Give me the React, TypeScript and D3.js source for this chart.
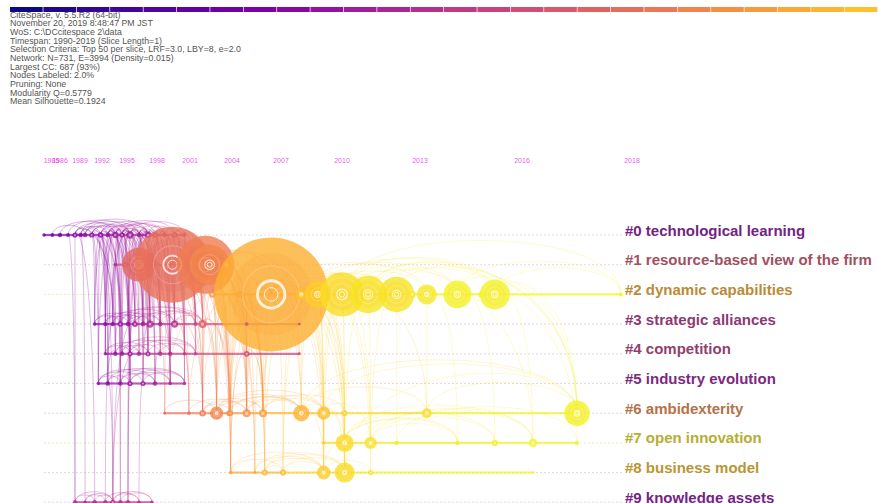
import React from 'react';
import * as d3 from 'd3';

const W = 878;
const H = 503;

const headerLines = [
  'CiteSpace, v. 5.5.R2 (64-bit)',
  'November 20, 2019 8:48:47 PM JST',
  'WoS: C:\\DCcitespace 2\\data',
  'Timespan: 1990-2019 (Slice Length=1)',
  'Selection Criteria: Top 50 per slice, LRF=3.0, LBY=8, e=2.0',
  'Network: N=731, E=3994 (Density=0.015)',
  'Largest CC: 687 (93%)',
  'Nodes Labeled: 2.0%',
  'Pruning: None',
  'Modularity Q=0.5779',
  'Mean Silhouette=0.1924',
];

const yearTicks = [1985, 1986, 1989, 1992, 1995, 1998, 2001, 2004, 2007, 2010, 2013, 2016, 2018];
const sliceCount = 26;

const clusterLabels = [
  '#0 technological learning',
  '#1 resource-based view of the firm',
  '#2 dynamic capabilities',
  '#3 strategic alliances',
  '#4 competition',
  '#5 industry evolution',
  '#6 ambidexterity',
  '#7 open innovation',
  '#8 business model',
  '#9 knowledge assets',
];
const clusterMeanYear = [1997.3, 2005, 2013.7, 2001, 2002, 1998.2, 2010.3, 2018, 2015, 1997.3];

// [publication year, citations, peak citing year]
const cluster0 = [
  [1984.1, 1.2, 1994], [1985.1, 1.5, 1995], [1986, 1.8, 1995], [1987.2, 1.5, 1996],
  [1988.25, 2.5, 1996], [1989.1, 1.8, 1996], [1989.7, 2, 1997], [1990.6, 2.5, 1997],
  [1991.8, 2.8, 1997], [1992.7, 2, 1998], [1993.6, 3.5, 1998], [1994.4, 2.5, 1998],
  [1995.3, 5, 1999], [1996.2, 2, 1999], [1997.1, 4, 1999], [1997.8, 2.5, 2000],
  [1998.7, 2, 2000], [1999.6, 3, 2001], [2000.5, 1.5, 2002],
];
const cluster1 = [
  [1993.6, 1.2, 2000], [1994.8, 2.5, 2004], [1996.2, 105, 2007], [1999.4, 533, 2008],
  [2002.1, 310, 2009], [2002.4, 148, 2010], [2003.6, 9, 2011],
];
const cluster2 = [
  [2002.6, 4, 2011], [2004.5, 3.5, 2012], [2006.4, 1200, 2013.5], [2008, 12, 2015],
  [2008.8, 62, 2016], [2010, 180, 2017], [2011, 130, 2017.5], [2012.1, 115, 2017.5],
  [2012.7, 4, 2018], [2013.2, 37, 2018], [2014.1, 72, 2018.5], [2014.8, 3, 2018.5],
  [2015.2, 83, 2018.5], [2017.8, 1.5, 2019],
];
const cluster3 = [
  [1991, 1.2, 1996], [1992.4, 1.8, 1997], [1993.3, 1.8, 1997], [1994.2, 2.5, 1998],
  [1995.1, 2, 1998], [1995.8, 3, 1999], [1996.6, 2, 1999], [1997.3, 5, 2000],
  [1998.3, 2, 2000], [1999.6, 5, 2001], [2001.4, 1.5, 2003], [2001.9, 6, 2006],
  [2004.9, 1.2, 2004], [2007.9, 0.8, 2004],
];
const cluster4 = [
  [1992.4, 1.2, 1998], [1993.6, 1.8, 1998], [1994.4, 1.8, 1999], [1995.3, 2.5, 1999],
  [1996.2, 1.8, 2000], [1997.1, 2.5, 2000], [1998.3, 1.8, 2001], [1999.2, 1.8, 2001],
  [2000.5, 1.2, 2002], [2001.4, 1.2, 2002], [2004.9, 3, 2004], [2007.9, 0.8, 2003],
];
const cluster5 = [
  [1991.5, 1.2, 1997], [1992.7, 1.8, 1997], [1994.2, 1.8, 1998], [1995.3, 2.5, 1998],
  [1996.6, 2.5, 1999], [1997.8, 1.8, 1999], [1999.2, 1.2, 2000], [2000.5, 1.2, 2000],
];
const cluster6 = [
  [1998.7, 0.8, 2006], [2000.9, 1.2, 2008], [2001.9, 4, 2009], [2002.9, 16, 2010],
  [2003.8, 3, 2010], [2003.9, 2.5, 2011], [2004.9, 6, 2011], [2005.9, 6, 2012],
  [2008, 25, 2014], [2009.1, 16, 2015], [2010.1, 3, 2016], [2013.2, 9, 2017],
  [2017, 60, 2018.5],
];
const cluster7 = [
  [2009.1, 1.2, 2016], [2010.1, 30, 2017], [2011.1, 14, 2017.5], [2012.1, 1.8, 2018],
  [2014.1, 1.8, 2018], [2015.2, 3.5, 2018], [2016.2, 6, 2018.5], [2017, 1.8, 2018.5],
];
const cluster8 = [
  [2003.9, 1.2, 2012], [2005.4, 0.8, 2013], [2006, 3.5, 2014], [2007.1, 3.5, 2014],
  [2009.1, 18, 2016], [2010.1, 37, 2017], [2011.1, 2.5, 2017.5], [2016.2, 0.8, 2018.5],
];
const cluster9 = [
  [1988.25, 1.8, 2000], [1989.7, 1.2, 2000], [1991, 1.8, 2000], [1992.4, 1.8, 2000.5],
  [1993.3, 2.5, 2000.5], [1994.2, 1.8, 2001], [1995.1, 1.8, 2001], [1996.2, 1.2, 2001],
  [1997.5, 1.2, 2001],
];
const clusters = [cluster0, cluster1, cluster2, cluster3, cluster4, cluster5, cluster6, cluster7, cluster8, cluster9];

const linkList = `
0.4-3.2 0.6-3.3 0.5-4.1
0.7-3.0 0.7-3.1 0.7-3.2 0.8-3.1 0.8-3.3 0.8-3.5 0.9-3.2 0.9-3.4 0.9-3.6 0.10-3.3 0.10-3.5 0.10-3.7
0.11-3.4 0.11-3.6 0.11-3.8 0.12-3.5 0.12-3.7 0.12-3.9 0.13-3.6 0.13-3.8 0.13-3.10 0.14-3.7 0.14-3.9
0.14-3.11 0.15-3.8 0.15-3.10 0.16-3.9 0.16-3.11 0.17-3.10 0.17-3.11 0.18-3.11 0.9-3.0 0.10-3.1
0.11-3.2 0.12-3.3 0.13-3.4 0.14-3.5 0.15-3.6 0.16-3.7 0.17-3.8 0.8-3.0 0.12-3.2 0.14-3.4 0.16-3.6
0.18-3.9 0.10-3.6 0.11-3.7 0.12-3.8 0.13-3.9 0.9-3.5 0.15-3.9 0.17-3.9 0.11-3.10
0.8-4.0 0.9-4.0 0.9-4.1 0.10-4.1 0.10-4.2 0.11-4.2 0.11-4.3 0.12-4.3 0.12-4.4 0.13-4.4 0.13-4.5
0.14-4.5 0.14-4.6 0.15-4.6 0.15-4.7 0.16-4.7 0.16-4.8 0.17-4.8 0.17-4.9 0.18-4.9 0.10-4.0 0.12-4.2
0.14-4.3 0.16-4.5 0.8-4.2 0.11-4.5 0.13-4.7 0.9-4.3 0.12-4.6 0.15-4.8
0.7-5.0 0.8-5.0 0.8-5.1 0.9-5.1 0.9-5.2 0.10-5.2 0.10-5.3 0.11-5.3 0.12-5.4 0.13-5.4 0.13-5.5
0.14-5.5 0.15-5.6 0.16-5.6 0.17-5.7 0.18-5.7 0.10-5.0 0.12-5.1 0.14-5.3 0.16-5.4 0.11-5.6 0.9-5.3
0.12-5.5 0.14-5.6
0.3-9.0 0.4-9.0 0.5-9.1 0.4-9.2 0.8-9.4 0.10-9.5 0.12-9.6
3.3-5.2 3.5-4.3 4.1-5.1 3.7-5.4 4.4-9.4 5.1-9.4 3.2-9.3 5.3-9.6
3.4-5.3 3.6-4.5 3.8-5.6 3.9-4.7 4.2-5.2 4.6-5.5 3.1-4.0 3.3-4.1 4.3-9.6 5.2-9.5 5.4-9.7 3.5-9.4
0.2-0.10 0.3-0.12 0.5-0.14 0.6-0.13 0.4-0.11 0.8-0.15 0.7-0.12 0.9-0.14 0.1-0.6 0.10-0.17 0.11-0.16
0.12-0.18 0.4-0.8 0.6-0.10 0.8-0.12 0.5-0.9 0.7-0.11 0.9-0.13 0.10-0.14
3.0-3.5 3.1-3.7 3.2-3.9 3.3-3.8 3.4-3.11 3.5-3.9 3.6-3.10 3.0-3.3 3.7-3.11 3.1-3.4 3.2-3.6 3.8-3.11
3.3-3.10 3.5-3.8 3.4-3.7 3.9-3.11
4.0-4.5 4.1-4.7 4.2-4.9 4.3-4.8 4.4-4.9 4.5-4.8 4.1-4.4 4.6-4.9 4.3-4.6 4.2-4.5 4.0-4.3
5.0-5.4 5.1-5.6 5.2-5.7 5.3-5.7 5.0-5.5 5.1-5.3 5.4-5.7 5.2-5.5 5.3-5.6 5.0-5.2
9.0-9.4 9.1-9.4 9.4-9.8 9.3-9.7 9.5-9.8 9.0-9.2 9.2-9.4 9.4-9.7 9.1-9.3
1.2-3.9 1.2-4.6 1.3-3.11 1.3-6.2 1.3-6.3 1.4-6.3 1.4-6.6 1.5-6.4 1.5-8.0 1.3-4.10 1.4-3.12 1.2-5.6
1.1-3.7 1.1-4.4 1.3-6.1 1.4-6.5 1.5-6.7 1.6-6.6 1.6-8.2 1.2-6.0 1.3-3.10 0.14-1.2 0.12-1.1 0.17-1.3
1.2-3.7 1.2-4.5 1.3-4.9 1.3-3.9 1.3-5.7 1.4-4.10 1.4-3.11 1.5-3.12 1.5-4.11 1.6-3.13 1.3-6.4 1.4-6.7
1.5-6.8 1.4-8.0 1.6-6.7 1.2-6.1 1.3-6.0 1.5-6.3 1.6-6.5 1.4-8.2
1.3-6.5 1.3-6.6 1.4-6.2 1.4-6.4 1.5-6.6 1.5-6.5 1.2-6.2 1.6-6.3 1.3-8.0 1.4-8.1 1.2-6.3 1.5-6.2
2.0-6.3 2.1-6.6 2.2-6.7 2.2-6.8 2.2-8.2 2.2-8.3 2.2-6.9 2.3-8.4 2.4-6.9 2.2-8.4 2.1-6.5 2.0-8.0
2.2-6.3 2.3-6.8 2.4-8.5 2.2-6.6 2.1-8.1 2.2-8.5 2.2-6.10 2.3-6.9 2.2-7.1 2.4-7.1
2.0-6.4 2.1-6.7 2.0-6.2 2.1-8.0 2.2-6.2 2.2-6.4 2.2-6.5 2.2-8.0 2.2-8.1 2.3-6.7 2.3-8.3 2.4-8.4
2.2-6.11 2.4-6.10 2.3-8.5 2.5-6.9 2.5-8.4 2.6-8.5 2.4-7.2 2.3-6.10 2.2-7.0 2.4-6.8 2.2-4.10 2.2-3.12
2.1-3.12 2.0-6.6 2.1-6.3 2.2-6.0 2.2-6.1 2.1-8.2 2.0-8.1 2.3-6.6 2.3-8.2 2.4-6.7 2.4-8.3
2.5-7.1 2.5-8.5 2.5-7.2 2.6-7.2 2.7-7.3 2.4-7.0
2.9-6.11 2.5-6.12 2.7-6.12 2.10-6.12 2.12-6.12 2.12-7.6 2.10-7.5 2.6-6.12 2.9-7.4 2.5-7.6 2.6-7.7
2.4-8.6 2.7-8.6 2.3-7.0 2.12-2.13 2.10-2.13
2.3-2.7 2.4-2.9 2.5-2.10 2.6-2.12 2.4-2.12 2.3-2.10 2.2-2.6 2.2-2.9 2.5-2.13 2.2-2.5 2.2-2.4 2.5-2.7
6.2-6.7 6.3-6.8 6.6-6.9 6.8-6.11 6.3-6.9 6.7-6.10 6.9-6.12 6.11-6.12 6.2-6.6 6.3-6.7 6.8-6.12 6.5-6.8
6.0-6.3 6.1-6.6 6.2-6.5 6.4-6.8 6.6-6.8 6.7-6.9
7.1-7.5 7.1-7.6 7.2-7.6 7.2-7.5 7.3-7.7 7.1-7.4 7.2-7.4
8.0-8.4 8.2-8.5 8.1-8.4 8.3-8.5 8.4-8.6 8.2-8.4 8.3-8.4 8.0-8.3 8.1-8.5 8.2-8.3
8.5-6.12 8.5-7.6 8.4-7.4 8.5-7.1 8.4-6.9 8.5-6.10
6.8-7.1 6.9-7.2 6.9-8.5 6.10-7.1 6.8-8.4
3.11-6.2 3.11-6.3 3.9-6.1 4.10-6.6 4.10-8.0 3.12-6.6
3.11-6.4 3.11-6.5 3.12-6.7 4.10-6.7 3.10-6.2 3.9-6.2
`;

type Node = { id: string; ci: number; i: number; year: number; count: number; peak: number; cx: number; cy: number; r: number };

export default function App() {
  const x = d3
    .scaleLinear()
    .domain([1980, 1985, 1986, 1989, 1992, 1995, 1998, 2001, 2004, 2007, 2010, 2013, 2016, 2018])
    .range([10, 51.5, 60, 80, 102, 127, 157, 190, 232, 281, 342, 420, 522, 632]);
  const y = d3.scaleLinear().domain([0, 9]).range([235, 502.3]);
  const rScale = d3.scaleSqrt().domain([0, 1200]).range([0, 57]);
  const tScale = d3.scaleLinear().domain([1988, 2019]).range([0, 1]).clamp(true);
  const color = (yr: number) => d3.interpolatePlasma(tScale(yr));
  const labelColor = (yr: number) =>
    d3.color(d3.interpolateRgb(color(yr), '#808080')(0.25))!.darker(0.5).formatHex();

  const nodes: Node[] = clusters.flatMap((arr, ci) =>
    arr.map(([year, count, peak], i) => ({
      id: `${ci}.${i}`, ci, i, year, count, peak,
      cx: x(year), cy: y(ci), r: Math.max(1.4, rScale(count)),
    }))
  );
  const byId = new Map(nodes.map((n) => [n.id, n]));
  const links = linkList
    .trim()
    .split(/\s+/)
    .map((s) => {
      const [a, b] = s.split('-');
      return { a: byId.get(a) as Node, b: byId.get(b) as Node };
    })
    .filter((l) => l.a && l.b);

  const linkPath = (a: Node, b: Node) => {
    const dx = Math.abs(b.cx - a.cx);
    const top = Math.min(a.cy, b.cy) - (5 + 0.24 * dx);
    const p = d3.path();
    p.moveTo(a.cx, a.cy);
    p.bezierCurveTo(a.cx, top, b.cx, top, b.cx, b.cy);
    return p.toString();
  };

  const sliceW = (W - 10) / sliceCount;
  const labelFont = '"Liberation Sans", Arial, Helvetica, sans-serif';

  return (
    <svg width={W} height={H} style={{ position: 'fixed', left: 0, top: 0, background: '#fff' }}>
      <rect x={0} y={0} width={W} height={H} fill="#fff" />
      {/* time slice color bar */}
      {d3.range(sliceCount).map((i) => (
        <rect key={i} x={10 + i * sliceW} y={7} width={sliceW - 0.7} height={5}
          fill={d3.interpolatePlasma((i / (sliceCount - 1)) * 0.87)} />
      ))}
      {/* header */}
      <g fontFamily={labelFont} fontSize={8.8} fill="#555">
        {headerLines.map((t, i) => (
          <text key={i} x={10} y={17.8 + i * 8.65}>{t}</text>
        ))}
      </g>
      {/* year labels */}
      <g fontFamily={labelFont} fontSize={7} fill="#e43fe4" fillOpacity={0.9} textAnchor="middle">
        {yearTicks.map((yr) => (
          <text key={yr} x={x(yr)} y={162.5}>{yr}</text>
        ))}
      </g>
      {/* dashed row guides */}
      {clusterLabels.map((_, ci) => (
        <line key={ci} x1={44} x2={622} y1={y(ci)} y2={y(ci)}
          stroke={ci === 2 || ci === 7 ? '#e6e08a' : '#dcbcd4'} strokeWidth={0.9}
          strokeDasharray="2,2" strokeOpacity={0.7} />
      ))}
      {/* links */}
      <g fill="none">
        {links.map((l, k) => {
          const yr = (l.a.peak + l.b.peak) / 2;
          return (
            <path key={k} d={linkPath(l.a, l.b)}
              stroke={color(yr)} strokeWidth={0.75} strokeOpacity={0.46 - 0.18 * tScale(yr)} />
          );
        })}
      </g>
      {/* cluster timelines */}
      {clusters.map((arr, ci) => {
        const ns = nodes.filter((n) => n.ci === ci);
        return ns.slice(1).map((n, k) => (
          <line key={`${ci}-${k}`} x1={ns[k].cx} x2={n.cx} y1={y(ci)} y2={y(ci)}
            stroke={color(n.peak)} strokeWidth={2.2} strokeOpacity={0.7} />
        ));
      })}
      {/* nodes */}
      {nodes.map((n) => {
        const c = color(n.peak);
        return (
          <g key={n.id} transform={`translate(${n.cx},${n.cy})`}>
            <circle r={n.r} fill={c} fillOpacity={0.8} />
            {n.r > 6 && (
              <>
                <circle r={n.r * 0.72} fill={color(n.peak - 1.5)} fillOpacity={0.22} />
                <circle r={n.r * 0.5} fill="none" stroke="#fff" strokeOpacity={0.3} strokeWidth={0.8} />
                <circle r={n.r * 0.24} fill="none" stroke="#fff" strokeOpacity={0.8}
                  strokeWidth={Math.max(1, n.r * 0.05)} />
                <circle r={n.r * 0.12} fill="none" stroke="#fff" strokeOpacity={0.8} strokeWidth={1} />
              </>
            )}
            {n.r <= 6 && n.r > 2.6 && <circle r={n.r * 0.4} fill="#fff" fillOpacity={0.55} />}
          </g>
        );
      })}
      {/* cluster labels */}
      <g fontFamily={labelFont} fontSize={15} fontWeight="bold">
        {clusterLabels.map((t, ci) => (
          <text key={ci} x={625} y={y(ci) + 0.5} fill={labelColor(clusterMeanYear[ci])}>
            {t}
          </text>
        ))}
      </g>
    </svg>
  );
}
